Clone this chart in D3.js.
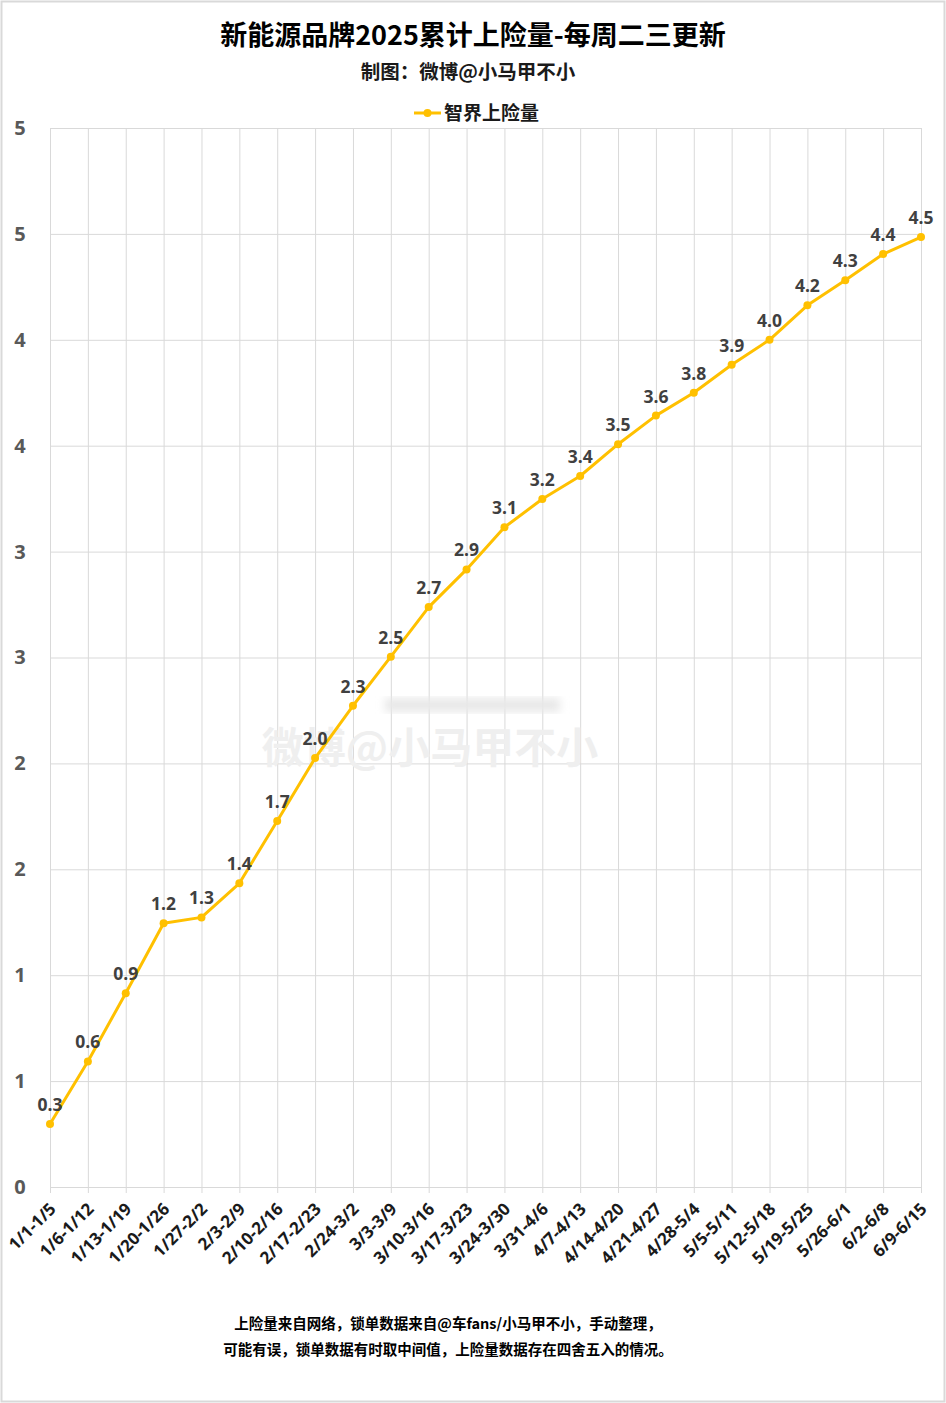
<!DOCTYPE html>
<html>
<head>
<meta charset="utf-8">
<script src="https://cdn.jsdelivr.net/npm/d3@7"></script>
<style>
  html, body { margin: 0; padding: 0; background: #fff; }
  svg { display: block; }
</style>
</head>
<body>
<svg id="chart" width="946" height="1403"></svg>
<script>
// ---- data ----
const categories = ["1/1-1/5","1/6-1/12","1/13-1/19","1/20-1/26","1/27-2/2","2/3-2/9","2/10-2/16","2/17-2/23","2/24-3/2","3/3-3/9","3/10-3/16","3/17-3/23","3/24-3/30","3/31-4/6","4/7-4/13","4/14-4/20","4/21-4/27","4/28-5/4","5/5-5/11","5/12-5/18","5/19-5/25","5/26-6/1","6/2-6/8","6/9-6/15"];
const values = [0.297,0.593,0.915,1.245,1.273,1.434,1.728,2.025,2.272,2.504,2.738,2.916,3.115,3.248,3.357,3.507,3.642,3.750,3.882,4.000,4.163,4.281,4.405,4.485];
const valueLabels = ["0.3","0.6","0.9","1.2","1.3","1.4","1.7","2.0","2.3","2.5","2.7","2.9","3.1","3.2","3.4","3.5","3.6","3.8","3.9","4.0","4.2","4.3","4.4","4.5"];
const yTickValues = [0,0.5,1,1.5,2,2.5,3,3.5,4,4.5,5];
const yTickLabels = ["0","1","1","2","2","3","3","4","4","5","5"];
const seriesName = "智界上险量";
const titleText = "新能源品牌2025累计上险量-每周二三更新";
const subtitleText = "制图：微博@小马甲不小";
const footerLines = ["上险量来自网络，锁单数据来自@车fans/小马甲不小，手动整理，","可能有误，锁单数据有时取中间值，上险量数据存在四舍五入的情况。"];
const watermark = "微博@小马甲不小";

// ---- layout ----
const W = 946, H = 1403;
const pLeft = 50, pRight = 921, pTop = 128, pBottom = 1187;
const lineColor = "#FFC000";
const gridColor = "#d9d9d9";
const cjk = '"Noto Sans CJK SC", "Noto Sans", sans-serif';
const latin = '"Open Sans", "Noto Sans CJK SC", sans-serif';

const svg = d3.select("#chart");

// border
svg.append("rect").attr("x", 1.5).attr("y", 1.5).attr("width", W - 3).attr("height", H - 3)
  .attr("fill", "#fff").attr("stroke", "#d9d9d9").attr("stroke-width", 2);

const x = d3.scalePoint().domain(categories).range([pLeft, pRight]);
const y = d3.scaleLinear().domain([0, 5]).range([pBottom, pTop]);

// horizontal grid (y axis)
const yAxis = d3.axisLeft(y).tickValues(yTickValues)
  .tickSize(-(pRight - pLeft)).tickFormat((d, i) => yTickLabels[i]).tickPadding(22);
const gy = svg.append("g").attr("transform", `translate(${pLeft},0)`).call(yAxis);
gy.select(".domain").remove();
gy.selectAll(".tick line").attr("stroke", gridColor).attr("stroke-width", 1);
gy.selectAll(".tick text").attr("fill", "#595959").attr("font-family", latin)
  .attr("font-weight", "bold").attr("font-size", 20).attr("text-anchor", "middle").attr("x", -30);

// vertical grid (x axis)
const xAxis = d3.axisBottom(x).tickSize(-(pBottom - pTop)).tickSizeOuter(0).tickFormat("");
const gx = svg.append("g").attr("transform", `translate(0,${pBottom})`).call(xAxis);
gx.select(".domain").remove();
gx.selectAll(".tick line").attr("stroke", gridColor).attr("stroke-width", 1).attr("y2", -(pBottom - pTop)).attr("y1", 6);

// x labels rotated
svg.append("g").selectAll("text").data(categories).join("text")
  .attr("transform", d => `translate(${x(d) + 7},${pBottom + 23}) rotate(-45)`)
  .attr("text-anchor", "end")
  .attr("font-family", latin).attr("font-weight", "bold").attr("font-size", 17)
  .attr("fill", "#1a1a1a")
  .text(d => d);

// watermark
const defs = svg.append("defs");
defs.append("filter").attr("id", "blur").append("feGaussianBlur").attr("stdDeviation", 4);
svg.append("rect").attr("x", 385).attr("y", 698).attr("width", 175).attr("height", 14)
  .attr("fill", "#e8e8e8").attr("filter", "url(#blur)");
svg.append("text").attr("x", 430).attr("y", 763).attr("text-anchor", "middle")
  .attr("font-family", cjk).attr("font-weight", "bold").attr("font-size", 42)
  .attr("fill", "#efefef").text(watermark);

// line
const line = d3.line().x((d, i) => x(categories[i])).y(d => y(d));
svg.append("path").datum(values).attr("d", line)
  .attr("fill", "none").attr("stroke", lineColor).attr("stroke-width", 3)
  .attr("stroke-linejoin", "round");
svg.append("g").selectAll("circle").data(values).join("circle")
  .attr("cx", (d, i) => x(categories[i])).attr("cy", d => y(d)).attr("r", 4)
  .attr("fill", lineColor);

// data labels
svg.append("g").selectAll("text").data(values).join("text")
  .attr("x", (d, i) => x(categories[i])).attr("y", d => y(d) - 13)
  .attr("text-anchor", "middle")
  .attr("font-family", latin).attr("font-weight", "bold").attr("font-size", 17.5)
  .attr("fill", "#404040")
  .text((d, i) => valueLabels[i]);

// title
svg.append("text").attr("x", 473).attr("y", 45).attr("text-anchor", "middle")
  .attr("font-family", cjk).attr("font-weight", "bold").attr("font-size", 27)
  .attr("fill", "#000").text(titleText);
svg.append("text").attr("x", 468).attr("y", 79).attr("text-anchor", "middle")
  .attr("font-family", cjk).attr("font-weight", "bold").attr("font-size", 19.5)
  .attr("fill", "#1a1a1a").text(subtitleText);

// legend
const lg = svg.append("g");
lg.append("line").attr("x1", 414).attr("x2", 441).attr("y1", 113).attr("y2", 113)
  .attr("stroke", lineColor).attr("stroke-width", 3);
lg.append("circle").attr("cx", 427.5).attr("cy", 113).attr("r", 4).attr("fill", lineColor);
lg.append("text").attr("x", 444).attr("y", 120).attr("font-family", cjk)
  .attr("font-weight", "bold").attr("font-size", 19).attr("fill", "#1a1a1a").text(seriesName);

// footer
svg.append("g").selectAll("text").data(footerLines).join("text")
  .attr("x", 448).attr("y", (d, i) => 1329 + i * 26).attr("text-anchor", "middle")
  .attr("font-family", cjk).attr("font-weight", "bold").attr("font-size", 14.5)
  .attr("fill", "#000").text(d => d);
</script>
</body>
</html>
